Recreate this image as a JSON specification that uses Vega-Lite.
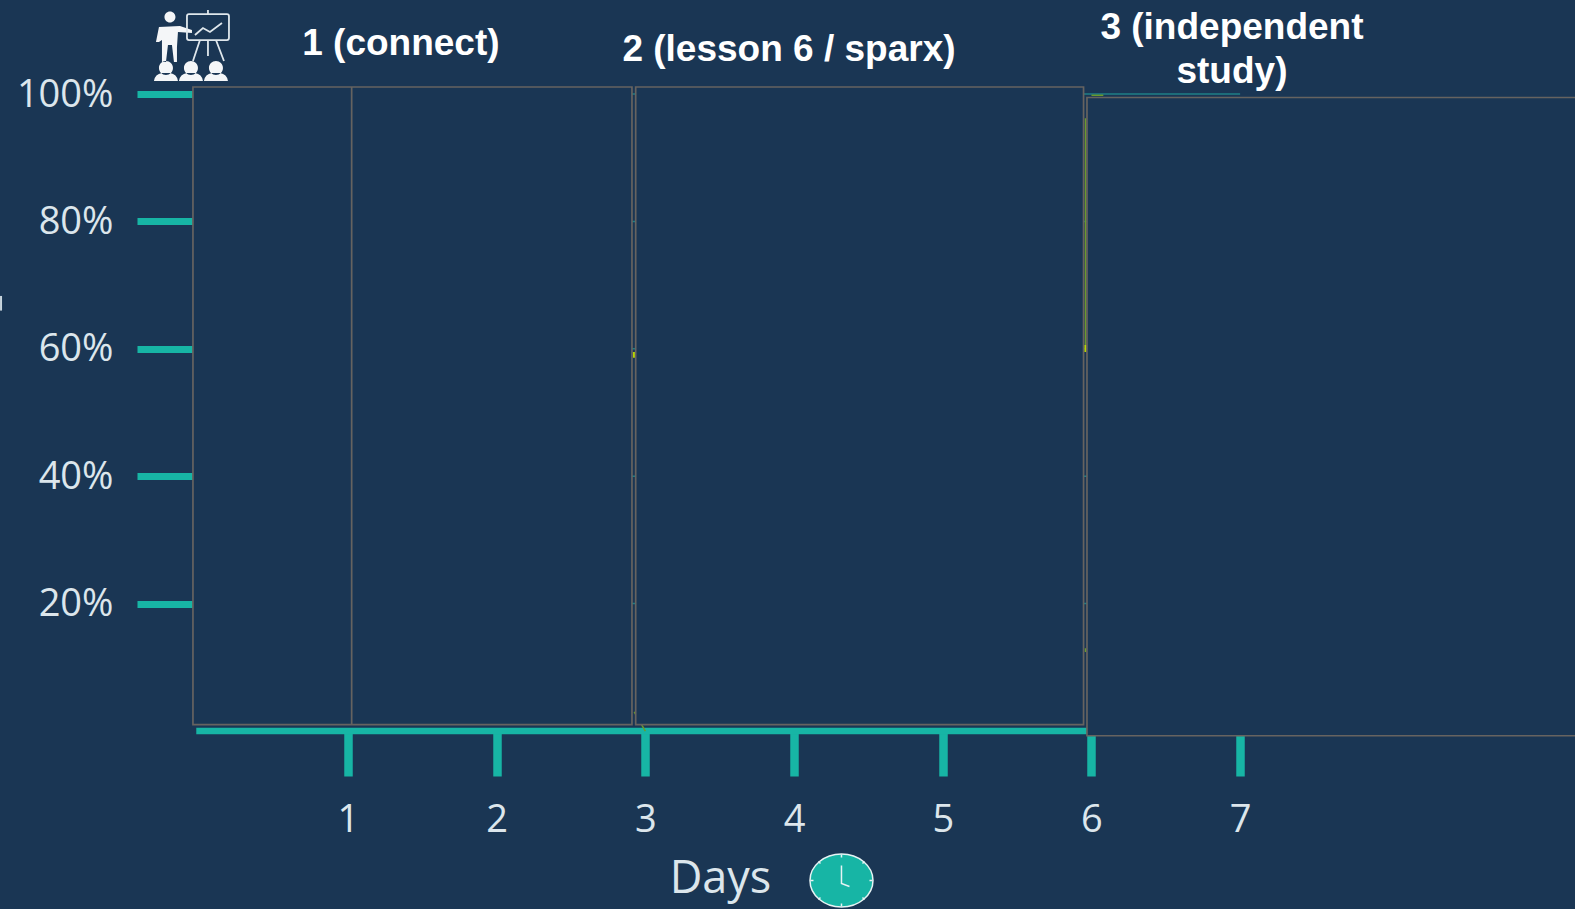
{
"$schema":"https://vega.github.io/schema/vega-lite/v6.json",
"width":1575,"height":909,"padding":0,"autosize":{"type":"none"},
"background":"#1a3654",
"config":{"view":{"stroke":null},"font":"Open Sans"},
"data":{"values":[{"day":0,"pct":0}]},
"encoding":{
 "x":{"field":"day","type":"quantitative","scale":{"domain":[-1.34,9.252],"nice":false,"zero":false},
  "axis":{"orient":"bottom","offset":-178,"values":[1,2,3,4,5,6,7],"format":"d","grid":false,"domain":false,"tickColor":"#17b5a5","tickWidth":8.5,"tickSize":45,"labelFont":"Open Sans","labelFontSize":38,"labelColor":"#dce6ec","labelPadding":25,"labelFontWeight":400,
   "title":"Days","titleFont":"Open Sans","titleFontSize":45,"titleFontWeight":400,"titleColor":"#dce6ec","titleX":720,"titleY":161,"titleAlign":"center","titleBaseline":"alphabetic","titleAnchor":null}},
 "y":{"field":"pct","type":"quantitative","scale":{"domain":[-27.94,114.76],"nice":false,"zero":false},
  "axis":{"orient":"left","offset":-193,"values":[20,40,60,80,100],"labelExpr":"datum.value + '%'","grid":false,"domain":false,"tickColor":"#17b5a5","tickWidth":7,"tickSize":56,"labelFont":"Open Sans","labelFontSize":38,"labelColor":"#dce6ec","labelPadding":24,"labelFontWeight":400,"labelOffset":1,"title":null}}
},
"layer":[
 {"data":{"values":[{"day":0,"day2":7,"pct":100},{"day":0,"day2":7,"pct":80},{"day":0,"day2":7,"pct":60},{"day":0,"day2":7,"pct":40},{"day":0,"day2":7,"pct":20}]},
  "mark":{"type":"rule","stroke":"#1f7f86","strokeWidth":1.5},"encoding":{"x2":{"field":"day2"}}},
 {"data":{"values":[{"day":-0.02,"day2":6,"pct":0}]},
  "mark":{"type":"rule","stroke":"#17b5a5","strokeWidth":6.5},"encoding":{"x2":{"field":"day2"}}},
 {"data":{"values":[{"seg":"a","day":5.96,"pct":96.2},{"seg":"a","day":5.96,"pct":60.6},{"seg":"b","day":2.925,"pct":3},{"seg":"b","day":3,"pct":0},{"seg":"c","day":5.96,"pct":13},{"seg":"c","day":5.96,"pct":12.4},{"seg":"d","day":6,"pct":99.8},{"seg":"d","day":6.08,"pct":99.8}]},
  "mark":{"type":"line","stroke":"#6a9a2c","strokeWidth":1.5},"encoding":{"detail":{"field":"seg"}}},
 {"data":{"values":[{"seg":"a","day":5.96,"pct":60.6},{"seg":"a","day":5.96,"pct":59.5},{"seg":"b","day":2.923,"pct":59.5},{"seg":"b","day":2.925,"pct":58.6}]},
  "mark":{"type":"line","stroke":"#b6d400","strokeWidth":2.5},"encoding":{"detail":{"field":"seg"}}},
 {"data":{"values":[{"box":"1","day":-0.0424,"day2":2.91,"pct":0.99,"pct2":101.1},{"box":"2","day":2.935,"day2":5.947,"pct":0.99,"pct2":101.1},{"box":"3","day":5.97,"day2":9.32,"pct":-0.74,"pct2":99.45}]},
  "mark":{"type":"rect","fill":"#1a3654","stroke":"#666360","strokeWidth":1.7},"encoding":{"x2":{"field":"day2"},"y2":{"field":"pct2"}}},
 {"data":{"values":[{"day":1.025,"pct":0.99,"pct2":101.1}]},
  "mark":{"type":"rule","stroke":"#666360","strokeWidth":1.7},"encoding":{"y2":{"field":"pct2"}}},
 {"data":{"values":[{"day":1.356,"pct":107.9,"label":"1 (connect)"},{"day":3.966,"pct":106.9,"label":"2 (lesson 6 / sparx)"},{"day":6.945,"pct":110.35,"label":"3 (independent\nstudy)"}]},
  "mark":{"type":"text","font":"Liberation Sans","fontWeight":"bold","fontSize":37,"color":"#ffffff","align":"center","baseline":"middle","lineBreak":"\n","lineHeight":44},"encoding":{"text":{"field":"label"}}},
 {"data":{"values":[{"day":-1.333,"pct":68.3,"pct2":66}]},
  "mark":{"type":"rule","stroke":"#c9d6de","strokeWidth":2},"encoding":{"y2":{"field":"pct2"}}},
 {"data":{"values":[{"day":-0.0625,"pct":107.69}]},
  "mark":{"type":"point","filled":true,"fill":"#f4f6f8","stroke":null,"opacity":1,"size":4,
   "shape":"M-25.5,-28a5.5,5.5 0 1,0 11,0a5.5,5.5 0 1,0 -11,0Z M-34,-3L-31,-18L-10,-19L2,-15L2,-12L-12,-13L-13,2L-13,17L-16,17L-18,0L-22,0L-24,17L-28,17L-28,-5L-31,-3Z M-31,23a7,7 0 1,0 14,0a7,7 0 1,0 -14,0Z M-36,36Q-35,29 -28,28L-20,28Q-13,29 -12,36Z M-6,23a7,7 0 1,0 14,0a7,7 0 1,0 -14,0Z M-11,36Q-10,29 -3,28L5,28Q12,29 13,36Z M19,23a7,7 0 1,0 14,0a7,7 0 1,0 -14,0Z M14,36Q15,29 22,28L30,28Q37,29 38,36Z"}},
 {"data":{"values":[{"day":-0.0625,"pct":107.69}]},
  "mark":{"type":"point","filled":false,"fill":null,"stroke":"#dfe7ec","strokeWidth":1.8,"opacity":1,"size":4,
   "shape":"M-1,-31H37Q39,-31 39,-29V-7Q39,-5 37,-5H-1Q-3,-5 -3,-7V-29Q-3,-31 -1,-31Z M18,-31V-35 M5,-10L13,-17L20,-13L32,-22 M10,-5L3,16 M26,-5L34,16 M18,-5V11"}},
 {"data":{"values":[{"day":4.319,"pct":-23.47}]},
  "mark":{"type":"point","filled":true,"fill":"#17b5a5","stroke":"#e6f3f4","strokeWidth":1.5,"opacity":1,"size":4,
   "shape":"M-31.5,0a31.5,26.5 0 1,0 63,0a31.5,26.5 0 1,0 -63,0Z"}},
 {"data":{"values":[{"day":4.319,"pct":-23.47}]},
  "mark":{"type":"point","filled":false,"fill":null,"stroke":"#e6f3f4","strokeWidth":1.5,"opacity":1,"size":4,
   "shape":"M0,-15V3L8,6 M0,-26V-23 M0,23V26 M-31,0H-28 M28,0H31 M-23,-19L-21,-17 M21,-17L23,-19 M-23,19L-21,17 M21,17L23,19"}}
]
}
